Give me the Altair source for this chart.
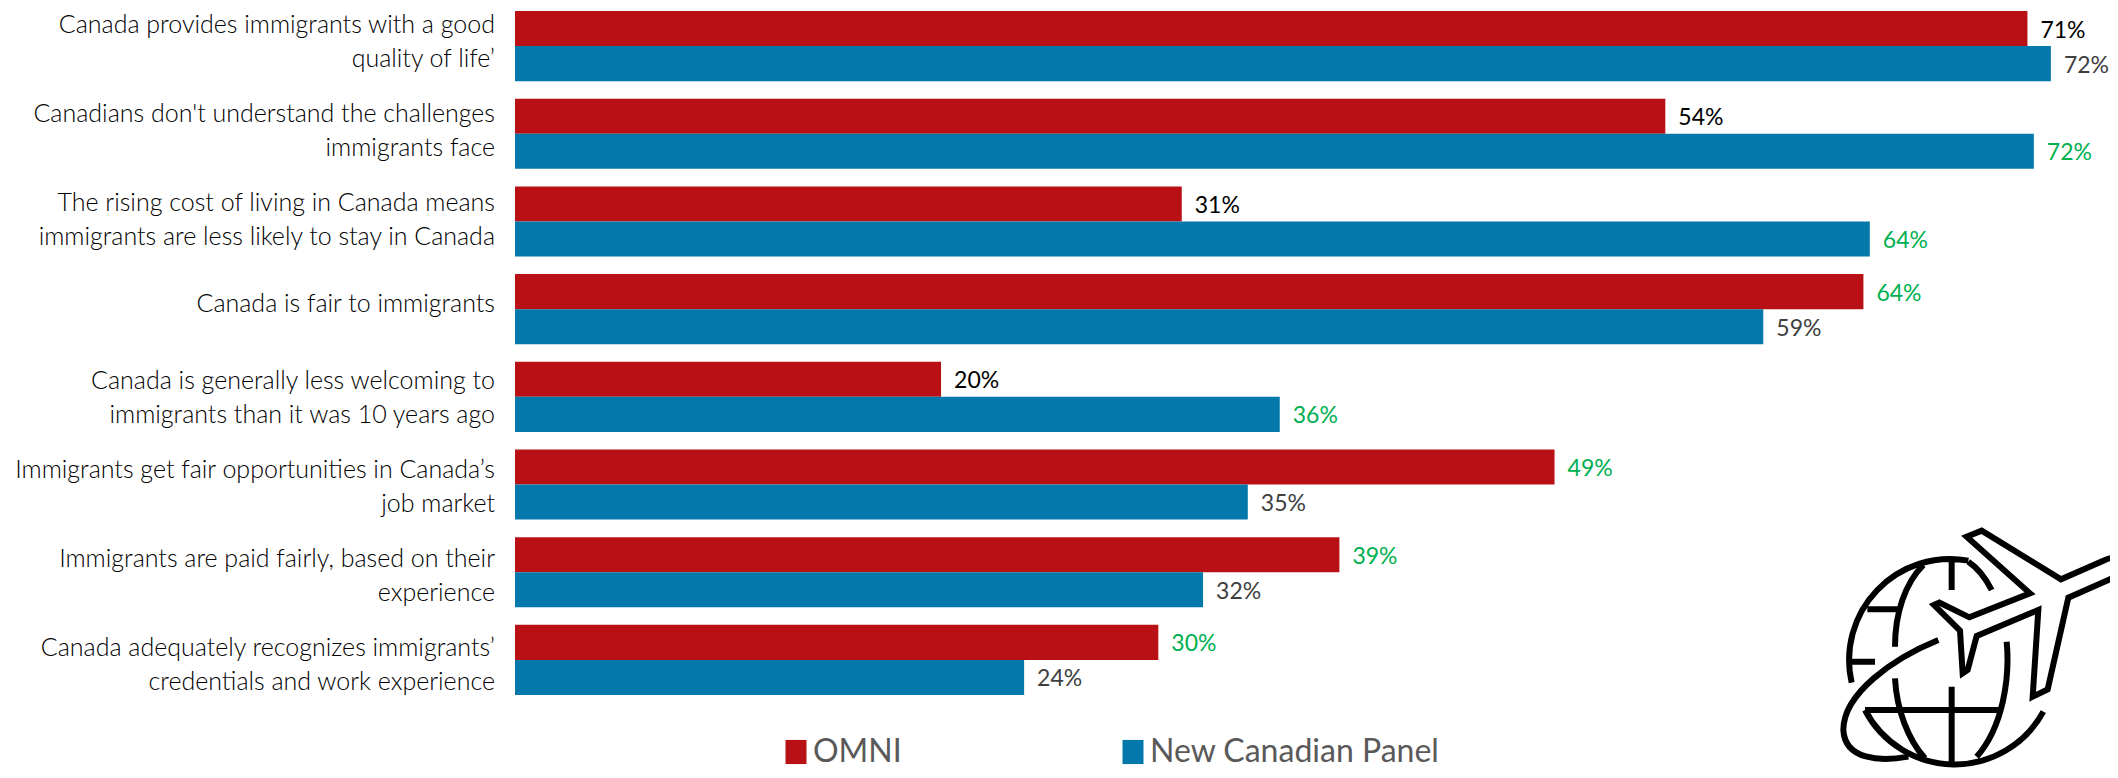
import altair as alt
import pandas as pd

categories = [
    "Canada provides immigrants with a good|quality of life’",
    "Canadians don't understand the challenges|immigrants face",
    "The rising cost of living in Canada means|immigrants are less likely to stay in Canada",
    "Canada is fair to immigrants",
    "Canada is generally less welcoming to|immigrants than it was 10 years ago",
    "Immigrants get fair opportunities in Canada’s|job market",
    "Immigrants are paid fairly, based on their|experience",
    "Canada adequately recognizes immigrants’|credentials and work experience",
]
series = ["OMNI", "New Canadian Panel"]
omni_values = [71.0, 54.0, 31.3, 63.3, 20.0, 48.8, 38.7, 30.2]
panel_values = [72.1, 71.3, 63.6, 58.6, 35.9, 34.4, 32.3, 23.9]
omni_labels = ["71%", "54%", "31%", "64%", "20%", "49%", "39%", "30%"]
panel_labels = ["72%", "72%", "64%", "59%", "36%", "35%", "32%", "24%"]
omni_tones = ["black", "black", "black", "green", "black", "green", "green", "green"]
panel_tones = ["grey", "green", "green", "grey", "green", "grey", "grey", "grey"]
tone_names = ["black", "grey", "green"]
tone_colors = ["#000000", "#404040", "#00B050"]
series_colors = ["#B81014", "#0477AB"]

rows = []
for i, c in enumerate(categories):
    rows.append(dict(cat=c, series=series[0], value=omni_values[i], label=omni_labels[i], tone=omni_tones[i]))
    rows.append(dict(cat=c, series=series[1], value=panel_values[i], label=panel_labels[i], tone=panel_tones[i]))
df = pd.DataFrame(rows)
cat_df = pd.DataFrame({"cat": categories})

FONT = "Lato"

y = alt.Y(
    "cat:N", sort=categories, title=None,
    scale=alt.Scale(domain=categories, paddingInner=0.2, paddingOuter=0.034),
    axis=None,
)
# the category texts run on a slightly longer pitch than the bars
y_text = alt.Y(
    "cat:N", sort=categories, title=None,
    scale=alt.Scale(domain=categories, range=[-10.6, 702], paddingInner=0, paddingOuter=0),
    axis=None,
)
x = alt.X("value:Q", title=None, scale=alt.Scale(domain=[0, 74.5], nice=False), axis=None)
yoff = alt.YOffset("series:N", sort=series, scale=alt.Scale(domain=series, paddingInner=0, paddingOuter=0))

bars = alt.Chart(df).mark_bar(cornerRadius=0).encode(
    x=x, y=y, yOffset=yoff,
    color=alt.Color(
        "series:N", sort=series,
        scale=alt.Scale(domain=series, range=series_colors),
        legend=alt.Legend(
            title=None, orient="none", legendX=265, legendY=728, direction="horizontal",
            symbolType="M-1,-1.15H1V1.15H-1Z", symbolSize=441, symbolStrokeWidth=0,
            symbolOpacity=1, labelFont=FONT, labelFontSize=32, labelColor="#595959",
            labelOffset=1, columnPadding=215, padding=0, labelLimit=500,
        ),
    ),
)

texts = alt.Chart(df).mark_text(align="left", baseline="middle", dx=13, dy=2, font=FONT, fontSize=23).encode(
    x=x, y=y, yOffset=yoff, text="label:N",
    color=alt.Color("tone:N", scale=alt.Scale(domain=tone_names, range=tone_colors), legend=None),
)

label_style = dict(
    align="right", baseline="middle", lineBreak="|", lineHeight=34,
    font=FONT, fontSize=25, fontWeight=300, color="#000000",
)
two_line_labels = alt.Chart(cat_df).transform_filter("indexof(datum.cat, '|') >= 0").mark_text(
    dy=-17, **label_style
).encode(x=alt.value(-20), y=y_text, text="cat:N")
one_line_labels = alt.Chart(cat_df).transform_filter("indexof(datum.cat, '|') < 0").mark_text(
    dy=-5, **label_style
).encode(x=alt.value(-20), y=y_text, text="cat:N")

# decorative icon: plane and globe, outlined
icon_path = (
    "M1020 172 C1000 172 985 175 975 180 L843 238 L605 92 L560 110 L750 280 L568 352 L478 308 L462 315 "
    "L540 392 L548 520 L563 510 L590 408 L775 330 L758 590 L803 568 L865 293 L985 240 C1000 233 1010 228 1020 226 "
    "M215 548 A303 303 0 0 1 565 182 "
    "M255 630 A303 303 0 0 0 790 635 "
    "M430 195 C375 250 345 340 345 440 "
    "M345 535 C350 630 385 720 435 775 "
    "M565 185 C595 205 620 240 635 270 "
    "M680 425 C690 530 670 680 590 770 "
    "M515 182 L515 270 "
    "M515 560 L515 788 "
    "M262 328 L355 328 "
    "M215 485 L285 485 "
    "M255 630 L660 630 "
    "M475 420 C340 475 190 580 190 690 C195 780 300 785 385 770"
)
icon = alt.Chart(pd.DataFrame({"k": [0]})).mark_point(
    shape=icon_path, size=4 / 9, filled=False, stroke="#000000", strokeWidth=6, opacity=1,
).encode(x=alt.value(1780 - 515), y=alt.value(500 - 8))

chart = (
    alt.layer(bars, texts, two_line_labels, one_line_labels, icon)
    .resolve_scale(color="independent", y="independent")
    .properties(
        width=1587, height=690,
        autosize=alt.AutoSizeParams(type="none"),
        padding={"left": 507, "top": 0, "right": 8, "bottom": 72},
        background="#ffffff",
    )
    .configure_view(stroke=None)
)
chart.save("out.html", embed_options={"renderer": "svg", "actions": False})
